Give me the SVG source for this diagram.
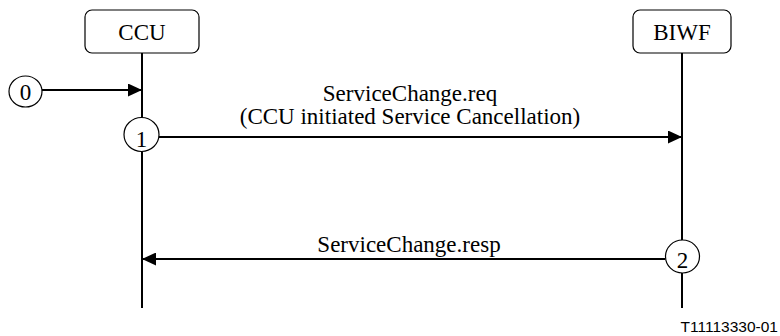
<svg xmlns="http://www.w3.org/2000/svg" width="780" height="336" viewBox="0 0 780 336">
<defs>
<style>
.box{fill:#fff;stroke:#000;stroke-width:1.2}
.life{stroke:#000;stroke-width:2;fill:none}
.msg{stroke:#000;stroke-width:2;fill:none}
.circ{fill:#fff;stroke:#000;stroke-width:1.2}
.t{font-family:"Liberation Serif","Times New Roman",serif;font-size:23px;fill:#000;text-anchor:middle}
.id{font-family:"Liberation Sans",Arial,sans-serif;font-size:15.5px;fill:#000;text-anchor:end}
</style>
<marker id="ah" markerWidth="14" markerHeight="13" refX="14" refY="6.5" orient="auto" markerUnits="userSpaceOnUse">
<path d="M0,0 L14,6.5 L0,13 Z" fill="#000"/>
</marker>
</defs>
<g id="lifelines">
<line class="life" x1="142" y1="53" x2="142" y2="308"/>
<line class="life" x1="682" y1="53" x2="682" y2="308"/>
</g>
<g id="CCU">
<rect class="box" x="85" y="10" width="114" height="43" rx="7"/>
<text class="t" x="142" y="40">CCU</text>
</g>
<g id="BIWF">
<rect class="box" x="633" y="10" width="98" height="43" rx="7"/>
<text class="t" x="682" y="40">BIWF</text>
</g>
<g id="connectors">
<line class="msg" x1="42" y1="90" x2="142" y2="90" marker-end="url(#ah)"/>
<line class="msg" x1="159" y1="137" x2="682" y2="137" marker-end="url(#ah)"/>
<line class="msg" x1="665" y1="259" x2="142" y2="259" marker-end="url(#ah)"/>
</g>
<g id="step0">
<ellipse class="circ" cx="25.5" cy="91.5" rx="16.5" ry="15.5"/>
<text class="t" x="25.5" y="100">0</text>
</g>
<g id="step1">
<ellipse class="circ" cx="141.5" cy="134.5" rx="17.5" ry="17"/>
<text class="t" x="141.5" y="146.5">1</text>
</g>
<g id="step2">
<ellipse class="circ" cx="682.5" cy="256.5" rx="17" ry="16.5"/>
<text class="t" x="682.5" y="268">2</text>
</g>
<g id="labels">
<text class="t" x="410" y="101">ServiceChange.req</text>
<text class="t" x="410" y="124">(CCU initiated Service Cancellation)</text>
<text class="t" x="409" y="252">ServiceChange.resp</text>
<text class="id" x="778" y="332">T11113330-01</text>
</g>
</svg>
